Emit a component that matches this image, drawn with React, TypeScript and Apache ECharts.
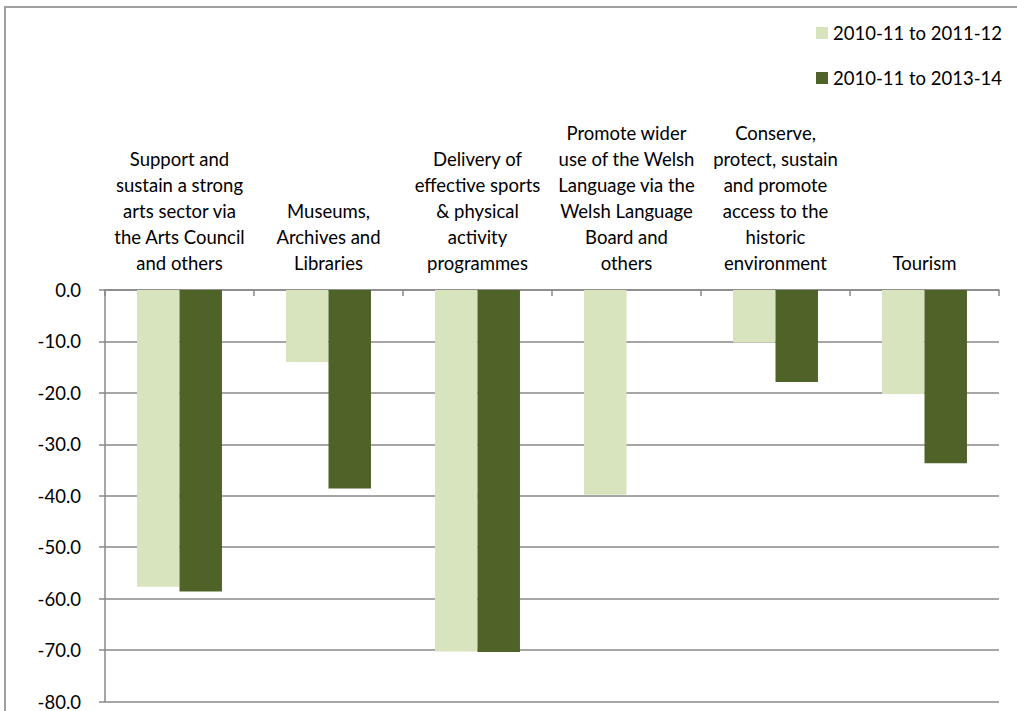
import React, { useEffect, useRef } from "react";
import * as echarts from "echarts";

const categories = [
  "Support and\nsustain a strong\narts sector via\nthe Arts Council\nand others",
  "Museums,\nArchives and\nLibraries",
  "Delivery of\neffective sports\n& physical\nactivity\nprogrammes",
  "Promote wider\nuse of the Welsh\nLanguage via the\nWelsh Language\nBoard and\nothers",
  "Conserve,\nprotect, sustain\nand promote\naccess to the\nhistoric\nenvironment",
  "Tourism",
];
const seriesNames = ["2010-11 to 2011-12", "2010-11 to 2013-14"];
const values2011_12 = [-57.7, -14.0, -70.3, -39.8, -10.2, -20.2];
const values2013_14 = [-58.6, -38.6, -70.4, null, -17.9, -33.7];
const yTicks = { min: -80, max: 0, interval: 10 };

const FONT = "Lato";
const FS = 18.5;

export default function App() {
  const ref = useRef<HTMLDivElement>(null);
  useEffect(() => {
    if (!ref.current) return;
    const chart = echarts.init(ref.current, null, { renderer: "svg" });
    const gridColor = "#888888";
    chart.setOption({
      animation: false,
      backgroundColor: "#ffffff",
      textStyle: { fontFamily: FONT, color: "#000" },
      graphic: [
        {
          type: "rect",
          shape: { x: 5, y: 7, width: 1100, height: 800 },
          style: { fill: "none", stroke: "#a0a0a0", lineWidth: 2 },
          silent: true,
          z: 100,
        },
      ],
      legend: {
        orient: "vertical",
        left: 816,
        top: 23,
        padding: 0,
        itemWidth: 12,
        itemHeight: 12,
        itemGap: 25,
        icon: "rect",
        textStyle: { fontFamily: FONT, fontSize: FS, color: "#000", lineHeight: 20 },
        data: seriesNames,
      },
      grid: { left: 105, right: 18, top: 290, bottom: 8, containLabel: false },
      xAxis: {
        type: "category",
        position: "top",
        data: categories,
        axisLine: { show: true, lineStyle: { color: gridColor, width: 1.5 } },
        axisTick: { show: true, inside: true, length: 6, lineStyle: { color: gridColor, width: 1.5 } },
        axisLabel: {
          interval: 0,
          margin: 14,
          fontFamily: FONT,
          fontSize: FS,
          lineHeight: 26,
          color: "#000",
          align: "center",
        },
        splitLine: { show: false },
      },
      yAxis: {
        type: "value",
        min: yTicks.min,
        max: yTicks.max,
        interval: yTicks.interval,
        axisLine: { show: true, lineStyle: { color: gridColor, width: 1.5 } },
        axisTick: { show: true, inside: false, length: 6, lineStyle: { color: gridColor, width: 1.5 } },
        axisLabel: {
          margin: 24,
          fontFamily: FONT,
          fontSize: FS,
          color: "#000",
          formatter: (v: number) => v.toFixed(1),
        },
        splitLine: { show: true, lineStyle: { color: gridColor, width: 1.5 } },
      },
      series: [
        {
          name: seriesNames[0],
          type: "bar",
          data: values2011_12,
          barGap: "0%",
          barCategoryGap: "43%",
          itemStyle: { color: "#D7E4BD" },
        },
        {
          name: seriesNames[1],
          type: "bar",
          data: values2013_14,
          barGap: "0%",
          barCategoryGap: "43%",
          itemStyle: { color: "#4F6228" },
        },
      ],
    });
    return () => chart.dispose();
  }, []);
  return (
    <div
      ref={ref}
      style={{ position: "fixed", left: 0, top: 0, width: 1017, height: 711, background: "#fff" }}
    />
  );
}
